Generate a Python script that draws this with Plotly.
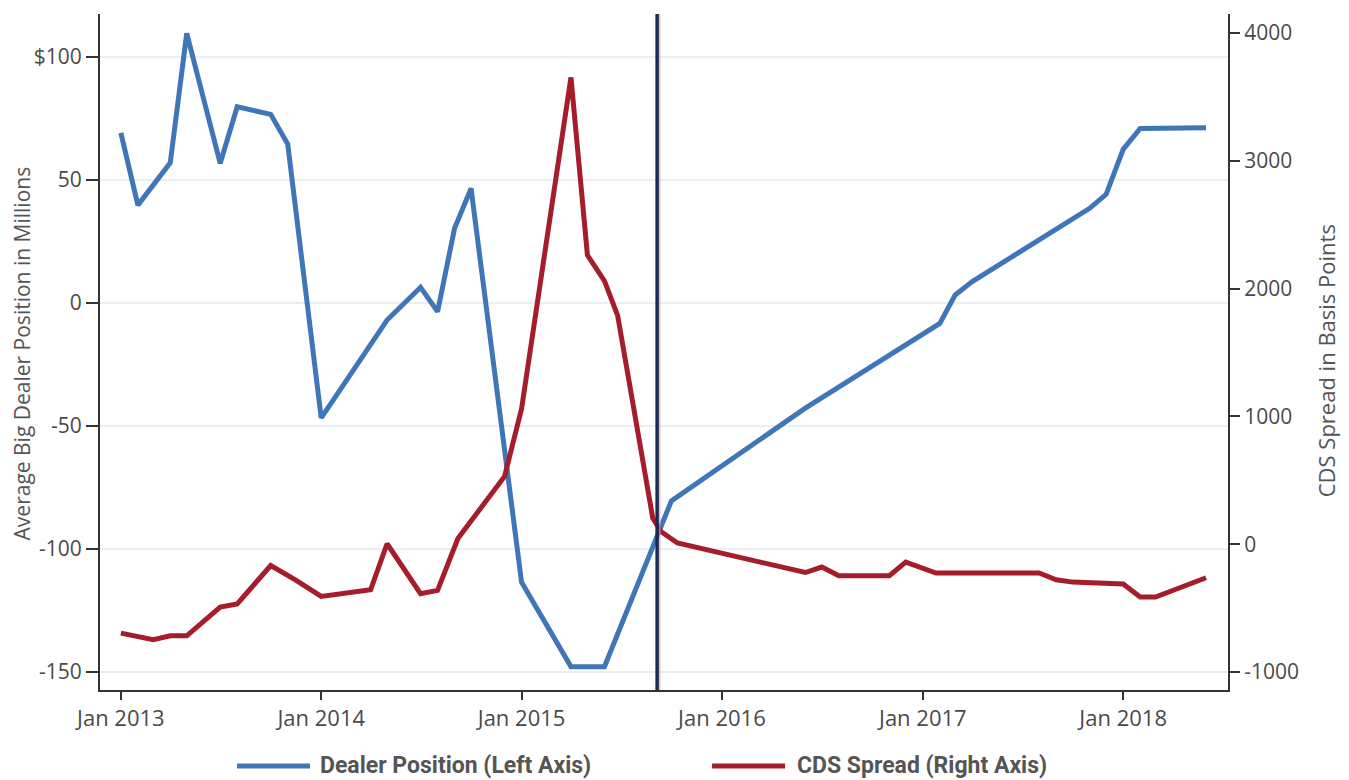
import plotly.graph_objects as go

# ---- data ----
dealer_dates = ["2013-01-01", "2013-02-01", "2013-04-01", "2013-05-01", "2013-07-01",
                "2013-08-01", "2013-10-01", "2013-11-01", "2014-01-01", "2014-04-01",
                "2014-05-01", "2014-07-01", "2014-08-01", "2014-09-01", "2014-10-01",
                "2015-01-01", "2015-04-01", "2015-06-01", "2015-10-01", "2016-06-01",
                "2017-02-01", "2017-03-01", "2017-04-01", "2017-11-01", "2017-12-01",
                "2018-01-01", "2018-02-01", "2018-06-01"]
dealer_vals = [69.2, 39.8, 57.0, 109.6, 56.8,
               79.8, 76.7, 64.6, -46.7, -16.4,
               -6.9, 6.4, -3.5, 30.4, 46.6,
               -113.5, -147.8, -147.8, -80.4, -42.7,
               -8.3, 3.3, 8.7, 38.5, 44.2,
               62.5, 71.0, 71.3]

cds_dates = ["2013-01-01", "2013-03-01", "2013-04-01", "2013-05-01", "2013-07-01",
             "2013-08-01", "2013-10-01", "2013-11-15", "2014-01-01", "2014-04-01",
             "2014-05-01", "2014-07-01", "2014-08-01", "2014-09-07", "2014-12-01",
             "2015-01-01", "2015-04-01", "2015-05-01", "2015-06-01", "2015-06-25",
             "2015-08-28", "2015-09-12", "2015-10-12", "2016-06-01", "2016-07-01",
             "2016-08-01", "2016-11-01", "2016-12-01", "2017-01-25", "2017-08-01",
             "2017-09-01", "2017-10-01", "2018-01-01", "2018-02-01", "2018-03-01",
             "2018-06-01"]
cds_vals = [-695, -747, -716, -716, -491,
            -466, -166, -278, -408, -356,
            4, -387, -361, 45, 530,
            1060, 3652, 2261, 2060, 1790,
            205, 100, 10, -221, -178,
            -246, -246, -139, -225, -225,
            -278, -296, -311, -413, -413,
            -262]

event_date = "2015-09-05"
event_date_shadow = "2015-09-10"

x_tickvals = ["2013-01-01", "2014-01-01", "2015-01-01", "2016-01-01", "2017-01-01", "2018-01-01"]
x_ticktext = ["Jan 2013", "Jan 2014", "Jan 2015", "Jan 2016", "Jan 2017", "Jan 2018"]
left_tickvals = [100, 50, 0, -50, -100, -150]
left_ticktext = ["$100", "50", "0", "-50", "-100", "-150"]
right_tickvals = [4000, 3000, 2000, 1000, 0, -1000]
right_ticktext = ["4000", "3000", "2000", "1000", "0", "-1000"]

series_names = ["Dealer Position (Left Axis)", "CDS Spread (Right Axis)"]
BLUE = "#3f76b7"
RED = "#a51d2b"
NAVY = "#1a2b50"
TXT = "#4a4a4a"
FONT = "Open Sans, Roboto, sans-serif"
NARROW = "Liberation Sans Narrow, Roboto, sans-serif"

fig = go.Figure()
fig.add_trace(go.Scatter(x=dealer_dates, y=dealer_vals, mode="lines", name=series_names[0],
                         line=dict(color=BLUE, width=5), yaxis="y", showlegend=False))
fig.add_trace(go.Scatter(x=cds_dates, y=cds_vals, mode="lines", name=series_names[1],
                         line=dict(color=RED, width=5), yaxis="y2", showlegend=False))

# event markers
fig.add_shape(type="line", xref="x", yref="paper", x0=event_date_shadow, x1=event_date_shadow,
              y0=0, y1=1, line=dict(color="#e89aaa", width=1), layer="above")
fig.add_shape(type="line", xref="x", yref="paper", x0=event_date, x1=event_date,
              y0=0, y1=1, line=dict(color=NAVY, width=3.5), layer="above")

# manual legend
leg_y = -0.1124
fig.add_shape(type="line", xref="paper", yref="paper", x0=0.1215, x1=0.1862, y0=leg_y, y1=leg_y,
              line=dict(color=BLUE, width=5))
fig.add_shape(type="line", xref="paper", yref="paper", x0=0.5426, x1=0.6073, y0=leg_y, y1=leg_y,
              line=dict(color=RED, width=5))
fig.add_annotation(xref="paper", yref="paper", x=0.1933, y=leg_y, xanchor="left", yanchor="middle",
                   text="<b>" + series_names[0] + "</b>", showarrow=False,
                   font=dict(family=NARROW, size=23, color="#555555"))
fig.add_annotation(xref="paper", yref="paper", x=0.6161, y=leg_y, xanchor="left", yanchor="middle",
                   text="<b>" + series_names[1] + "</b>", showarrow=False,
                   font=dict(family=NARROW, size=23, color="#555555"))

# axis titles
fig.add_annotation(xref="paper", yref="paper", x=-0.0691, y=0.498, textangle=-90,
                   text="Average Big Dealer Position in Millions", showarrow=False,
                   xanchor="center", yanchor="middle", font=dict(family=FONT, size=21, color="#555555"))
fig.add_annotation(xref="paper", yref="paper", x=1.0864, y=0.487, textangle=-90,
                   text="CDS Spread in Basis Points", showarrow=False,
                   xanchor="center", yanchor="middle", font=dict(family=FONT, size=22, color="#555555"))

# page body has an 8px margin, so the figure is 8px smaller and left/top margins shifted
fig.update_layout(
    width=1341, height=772,
    margin=dict(l=92, r=121, t=6, b=90, autoexpand=False),
    paper_bgcolor="white", plot_bgcolor="white",
    font=dict(family=FONT, size=20, color=TXT),
    xaxis=dict(range=["2012-11-24", "2018-07-11"], tickvals=x_tickvals, ticktext=x_ticktext,
               showgrid=False, zeroline=False, showline=True, linecolor="#333333", linewidth=2,
               ticks="outside", ticklen=8, tickwidth=2, tickcolor="#333333", automargin=False,
               tickfont=dict(family=FONT, size=22, color=TXT)),
    yaxis=dict(range=[-157.3, 117.5], tickvals=left_tickvals, ticktext=left_ticktext,
               showgrid=True, gridcolor="#e7f0f4", gridwidth=2, zeroline=False,
               showline=True, linecolor="#333333", linewidth=2, automargin=False,
               ticks="outside", ticklen=12, tickwidth=2, tickcolor="#333333",
               tickfont=dict(family=FONT, size=21, color=TXT)),
    yaxis2=dict(range=[-1140, 4148], tickvals=right_tickvals, ticktext=right_ticktext,
                overlaying="y", side="right", showgrid=False, zeroline=False,
                showline=True, linecolor="#333333", linewidth=2, automargin=False,
                ticks="outside", ticklen=10, tickwidth=2, tickcolor="#333333",
                tickfont=dict(family=FONT, size=21, color=TXT)),
)

fig.write_html("out.html")
